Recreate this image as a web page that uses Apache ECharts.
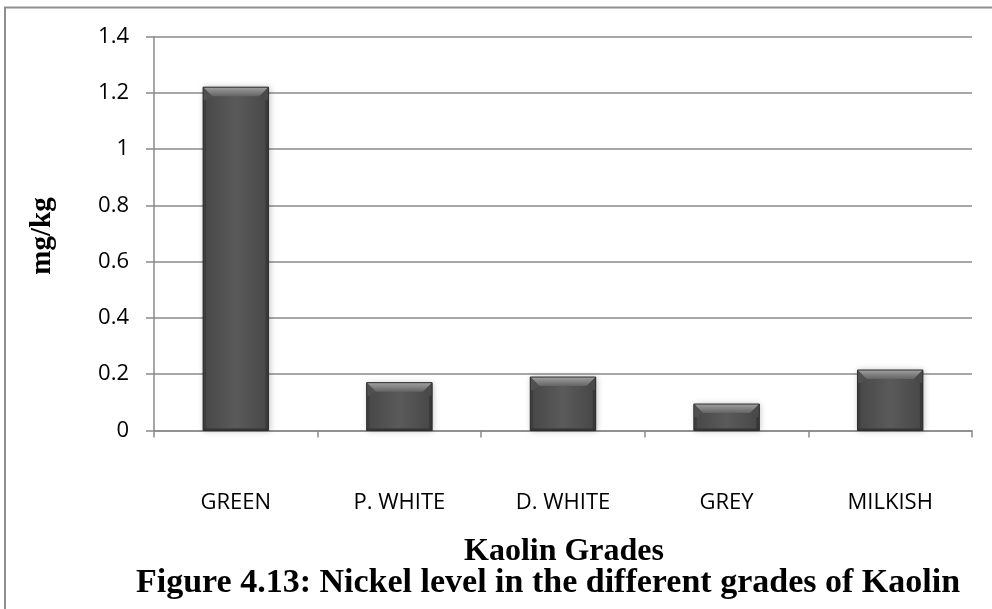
<!DOCTYPE html>
<html>
<head>
<meta charset="utf-8">
<script src="https://cdn.jsdelivr.net/npm/echarts@6/dist/echarts.min.js"></script>
<style>
  html, body { margin: 0; padding: 0; background: #fff; }
  #chart { width: 992px; height: 609px; }
</style>
</head>
<body>
<div id="chart"></div>
<script>
// Kaolin grades and their nickel content (mg/kg)
const categories = ['GREEN', 'P. WHITE', 'D. WHITE', 'GREY', 'MILKISH'];
const nickelValues = [1.22, 0.17, 0.19, 0.094, 0.215];
const yTicks = { min: 0, max: 1.4, interval: 0.2 };

const xTitle = 'Kaolin Grades';
const yTitle = 'mg/kg';
const caption = 'Figure 4.13: Nickel level in the different grades of Kaolin';

const chart = echarts.init(document.getElementById('chart'), null, { renderer: 'canvas' });

// Beveled dark-grey column, placed with the axis scales
function renderBevelBar(params, api) {
  const idx = api.value(0);
  const val = api.value(1);
  const top = api.coord([idx, val]);
  const base = api.coord([idx, 0]);
  const bw = api.size([1, 0])[0] * 0.4;
  const x0 = top[0] - bw / 2, x1 = top[0] + bw / 2;
  const y0 = top[1], y1 = base[1];
  const h = y1 - y0;
  const bt = Math.min(9, h / 2);
  const bs = Math.min(9, bw / 4);
  const bb = Math.min(2, h / 4);
  const ss = 3;
  return {
    type: 'group',
    children: [
      {
        type: 'rect',
        shape: { x: x0, y: y0, width: bw, height: h },
        style: {
          fill: new echarts.graphic.LinearGradient(0, 0, 1, 0, [
            { offset: 0, color: '#474747' },
            { offset: 0.5, color: '#5a5a5a' },
            { offset: 1, color: '#474747' }
          ]),
          shadowBlur: 6, shadowColor: 'rgba(0,0,0,0.25)', shadowOffsetX: 1, shadowOffsetY: 0
        }
      },
      // side edges
      {
        type: 'rect',
        shape: { x: x0, y: y0, width: ss, height: h },
        style: { fill: '#3e3e3e' }
      },
      {
        type: 'rect',
        shape: { x: x1 - ss, y: y0, width: ss, height: h },
        style: { fill: '#393939' }
      },
      // top bevel with slanted corners
      {
        type: 'polygon',
        shape: { points: [[x0, y0], [x1, y0], [x1 - bs, y0 + bt], [x0 + bs, y0 + bt]] },
        style: {
          fill: new echarts.graphic.LinearGradient(0, 0, 0, 1, [
            { offset: 0, color: '#a0a0a0' },
            { offset: 1, color: '#646464' }
          ])
        }
      },
      {
        type: 'polygon',
        shape: { points: [[x0, y0], [x0 + bs, y0 + bt], [x0 + ss, y0 + bt + 4], [x0, y0 + bt + 4]] },
        style: { fill: '#505050' }
      },
      {
        type: 'polygon',
        shape: { points: [[x1, y0], [x1 - bs, y0 + bt], [x1 - ss, y0 + bt + 4], [x1, y0 + bt + 4]] },
        style: { fill: '#4a4a4a' }
      },
      {
        type: 'rect',
        shape: { x: x0, y: y1 - bb, width: bw, height: bb },
        style: { fill: '#353535' }
      },
      {
        type: 'rect',
        shape: { x: x0, y: y0, width: bw, height: h },
        style: { fill: 'none', stroke: '#2e2e2e', lineWidth: 1 }
      }
    ]
  };
}

const axisGrey = '#8a8a8a';
const serif = 'Liberation Serif';

chart.setOption({
  animation: false,
  backgroundColor: '#ffffff',
  grid: { left: 154, right: 20, top: 36.5, bottom: 178.5, containLabel: false },
  xAxis: {
    type: 'category',
    data: categories,
    boundaryGap: true,
    axisLine: { show: true, lineStyle: { color: axisGrey, width: 1.5 } },
    axisTick: { show: true, alignWithLabel: false, length: 7, lineStyle: { color: axisGrey, width: 1.5 } },
    axisLabel: { margin: 61, color: '#000', fontFamily: 'Open Sans', fontSize: 22 }
  },
  yAxis: {
    type: 'value',
    min: yTicks.min, max: yTicks.max, interval: yTicks.interval,
    axisLine: { show: true, lineStyle: { color: axisGrey, width: 1.5 } },
    axisTick: { show: true, inside: false, length: 8, lineStyle: { color: axisGrey, width: 1.5 } },
    splitLine: { show: true, lineStyle: { color: axisGrey, width: 1.5 } },
    axisLabel: { margin: 25, color: '#000', fontFamily: 'Open Sans', fontSize: 22 }
  },
  series: [{
    type: 'custom',
    renderItem: renderBevelBar,
    encode: { x: 0, y: 1 },
    data: nickelValues.map((v, i) => [i, v]),
    z: 3
  }],
  graphic: [
    {
      type: 'polyline',
      shape: { points: [[5, 609], [5, 7.5], [992, 7.5]] },
      style: { stroke: '#8f8f8f', lineWidth: 2, fill: 'none' },
      silent: true
    },
    {
      type: 'text',
      x: 43, y: 236, rotation: Math.PI / 2,
      style: {
        text: yTitle,
        fontFamily: serif, fontWeight: 'bold', fontSize: 29,
        fill: '#000', align: 'center', verticalAlign: 'middle'
      }
    },
    {
      type: 'text',
      x: 564, y: 552,
      style: {
        text: xTitle,
        fontFamily: serif, fontWeight: 'bold', fontSize: 32,
        fill: '#000', align: 'center', verticalAlign: 'middle'
      }
    },
    {
      type: 'text',
      x: 548, y: 583,
      style: {
        text: caption,
        fontFamily: serif, fontWeight: 'bold', fontSize: 34,
        fill: '#000', align: 'center', verticalAlign: 'middle'
      }
    }
  ]
});
</script>
</body>
</html>
